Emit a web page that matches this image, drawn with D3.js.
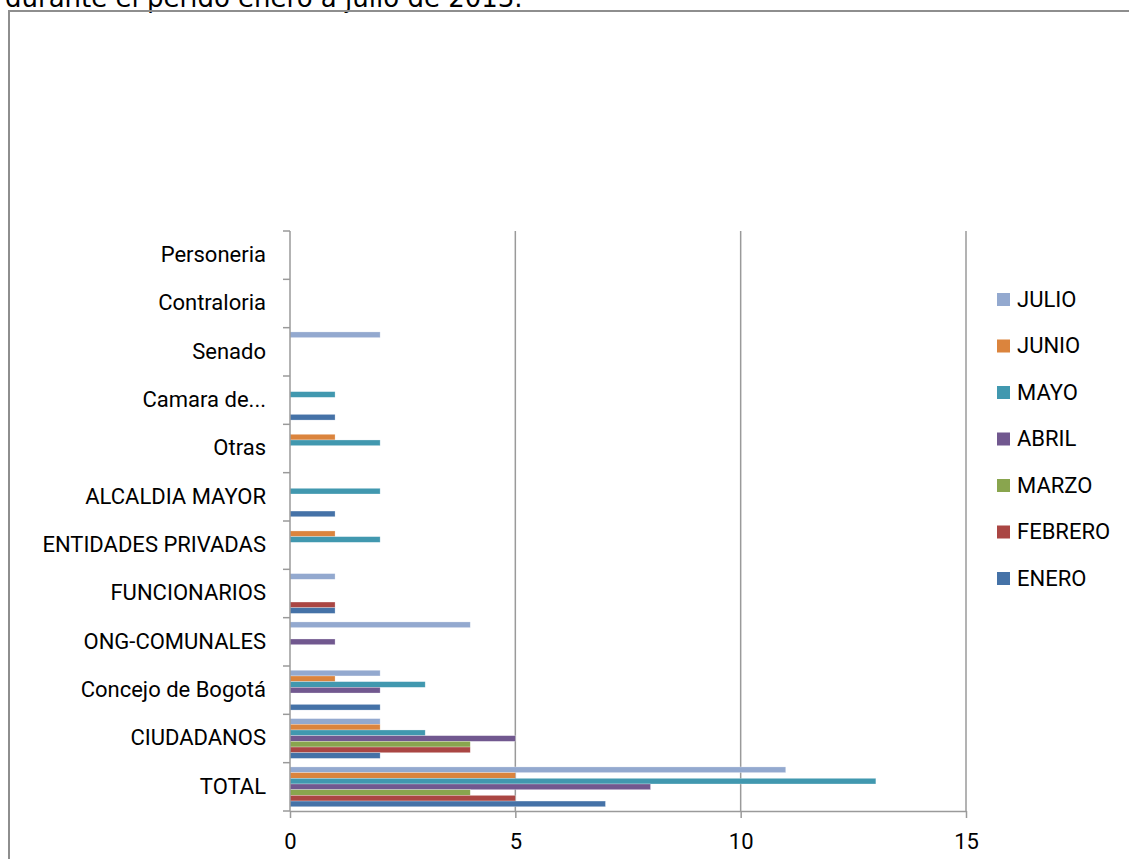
<!DOCTYPE html>
<html>
<head>
<meta charset="utf-8">
<script src="https://cdn.jsdelivr.net/npm/d3@7"></script>
<style>
  html, body { margin: 0; padding: 0; background: #fff; overflow: hidden; }
  svg { display: block; }
</style>
</head>
<body>
<div id="chart"></div>
<script>
// categories, top to bottom as drawn
const categories = ['Personeria', 'Contraloria', 'Senado', 'Camara de...', 'Otras', 'ALCALDIA MAYOR',
  'ENTIDADES PRIVADAS', 'FUNCIONARIOS', 'ONG-COMUNALES', 'Concejo de Bogotá', 'CIUDADANOS', 'TOTAL'];

// series in legend order (top to bottom)
const months = ['JULIO', 'JUNIO', 'MAYO', 'ABRIL', 'MARZO', 'FEBRERO', 'ENERO'];
const monthColors = ['#93A9CF', '#DB843D', '#4198AF', '#71588F', '#89A54E', '#AA4643', '#4572A7'];

// values per month, same order as categories
const enero   = [0, 0, 0, 1, 0, 1, 0, 1, 0, 2, 2, 7];
const febrero = [0, 0, 0, 0, 0, 0, 0, 1, 0, 0, 4, 5];
const marzo   = [0, 0, 0, 0, 0, 0, 0, 0, 0, 0, 4, 4];
const abril   = [0, 0, 0, 0, 0, 0, 0, 0, 1, 2, 5, 8];
const mayo    = [0, 0, 0, 1, 2, 2, 2, 0, 0, 3, 3, 13];
const junio   = [0, 0, 0, 0, 1, 0, 1, 0, 0, 1, 2, 5];
const julio   = [0, 0, 2, 0, 0, 0, 0, 1, 4, 2, 2, 11];

const xTicks = [0, 5, 10, 15];

const seriesValues = { JULIO: julio, JUNIO: junio, MAYO: mayo, ABRIL: abril, MARZO: marzo, FEBRERO: febrero, ENERO: enero };

const W = 1129, H = 859;
const plot = { left: 290, right: 966, top: 231, bottom: 811 };
const labelFont = 'Roboto, "Open Sans", sans-serif';
const gray = '#9a9a9a';

const svg = d3.select('#chart').append('svg')
  .attr('width', W)
  .attr('height', H);

// title, cut off at the top of the picture
svg.append('text')
  .attr('x', 5)
  .attr('y', 7)
  .attr('font-family', '"DejaVu Sans", Verdana, sans-serif')
  .attr('font-size', '26px')
  .attr('fill', '#000')
  .text('durante el perido enero a julio de 2013.');

// chart frame
svg.append('rect')
  .attr('x', 9)
  .attr('y', 11)
  .attr('width', W + 20)
  .attr('height', H + 20)
  .attr('fill', 'none')
  .attr('stroke', '#8e8e8e')
  .attr('stroke-width', 2);

const xScale = d3.scaleLinear()
  .domain([0, 15])
  .range([plot.left, plot.right]);

const yScale = d3.scaleBand()
  .domain(categories)
  .range([plot.top, plot.bottom])
  .padding(0);

// gap width 150% -> bar height = band / (7 + 1.5)
const barH = yScale.bandwidth() / (months.length + 1.5);
const ySub = d3.scaleBand()
  .domain(months)
  .range([barH * 0.75, yScale.bandwidth() - barH * 0.75]);

const color = d3.scaleOrdinal().domain(months).range(monthColors);

// vertical gridlines
svg.append('g')
  .selectAll('line')
  .data(xTicks.filter(t => t > 0))
  .enter()
  .append('line')
  .attr('x1', d => xScale(d))
  .attr('x2', d => xScale(d))
  .attr('y1', plot.top)
  .attr('y2', plot.bottom)
  .attr('stroke', gray)
  .attr('stroke-width', 1.5);

// bars
const rows = svg.append('g')
  .selectAll('.cat')
  .data(categories)
  .enter()
  .append('g')
  .attr('class', 'cat')
  .attr('transform', d => 'translate(0,' + yScale(d) + ')');

rows.selectAll('rect')
  .data((cat, ci) => months.map(m => ({ month: m, value: seriesValues[m][ci] })))
  .enter()
  .append('rect')
  .attr('x', xScale(0))
  .attr('y', d => ySub(d.month))
  .attr('width', d => xScale(d.value) - xScale(0))
  .attr('height', ySub.bandwidth())
  .attr('fill', d => color(d.month))
  .attr('stroke', 'rgba(255,255,255,0.45)')
  .attr('stroke-width', 0.6)
  .style('display', d => d.value > 0 ? null : 'none');

// x axis
const xAxis = svg.append('g')
  .attr('transform', 'translate(0,' + plot.bottom + ')')
  .call(d3.axisBottom(xScale).tickValues(xTicks).tickSize(7).tickSizeOuter(0));
xAxis.select('.domain').attr('stroke', gray).attr('stroke-width', 1.5);
xAxis.selectAll('.tick line').attr('stroke', gray).attr('stroke-width', 1.5);
xAxis.selectAll('.tick text')
  .attr('y', 30)
  .attr('dy', '0.35em')
  .attr('fill', '#000')
  .attr('font-family', labelFont)
  .attr('font-size', '22px');

// y axis: line plus ticks at category boundaries
const yAxis = svg.append('g');
yAxis.append('line')
  .attr('x1', plot.left).attr('x2', plot.left)
  .attr('y1', plot.top).attr('y2', plot.bottom)
  .attr('stroke', gray)
  .attr('stroke-width', 1.5);
yAxis.selectAll('.ytick')
  .data(categories.map(c => yScale(c)).concat([plot.bottom]))
  .enter()
  .append('line')
  .attr('class', 'ytick')
  .attr('x1', plot.left - 7).attr('x2', plot.left)
  .attr('y1', d => d).attr('y2', d => d)
  .attr('stroke', gray)
  .attr('stroke-width', 1.5);
yAxis.selectAll('.ylabel')
  .data(categories)
  .enter()
  .append('text')
  .attr('class', 'ylabel')
  .attr('x', 266)
  .attr('y', d => yScale(d) + yScale.bandwidth() / 2 - 1)
  .attr('dy', '0.35em')
  .attr('text-anchor', 'end')
  .attr('font-family', labelFont)
  .attr('font-size', '22px')
  .attr('fill', '#000')
  .text(d => d);

// legend
const legend = svg.append('g')
  .attr('transform', 'translate(997,299)');
const items = legend.selectAll('.item')
  .data(months)
  .enter()
  .append('g')
  .attr('class', 'item')
  .attr('transform', (d, i) => 'translate(0,' + (i * 46.5) + ')');
items.append('rect')
  .attr('x', 0)
  .attr('y', -6)
  .attr('width', 13)
  .attr('height', 13)
  .attr('fill', d => color(d));
items.append('text')
  .attr('x', 20)
  .attr('y', 0)
  .attr('dy', '0.35em')
  .attr('font-family', labelFont)
  .attr('font-size', '22px')
  .attr('fill', '#000')
  .text(d => d);
</script>
</body>
</html>
